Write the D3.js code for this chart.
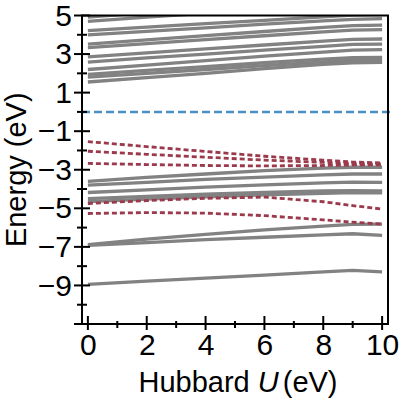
<!DOCTYPE html>
<html>
<head>
<meta charset="utf-8">
<script src="https://cdn.jsdelivr.net/npm/d3@7"></script>
<style>
    body { margin: 0; background: #fff; }
    svg { display: block; font-family: "Liberation Sans", Arial, sans-serif; }
</style>
</head>
<body>
<div id="chart"></div>
<script>
// --- Data ---
const hubbardU = [0, 2, 4, 6, 8, 9, 10];

// conduction states (solid gray), values at each U above
const upperStates = [
    [4.92, 5.15, 5.35, 5.55, 5.75, 5.80, 5.80],
    [4.70, 4.92, 5.12, 5.30, 5.50, 5.55, 5.55],
    [4.22, 4.40, 4.58, 4.75, 4.93, 5.02, 5.05],
    [4.00, 4.18, 4.36, 4.55, 4.72, 4.80, 4.84],
    [3.52, 3.74, 3.96, 4.17, 4.38, 4.47, 4.50],
    [3.33, 3.54, 3.75, 3.95, 4.15, 4.24, 4.27],
    [2.85, 3.06, 3.27, 3.47, 3.67, 3.76, 3.78],
    [2.58, 2.80, 3.00, 3.20, 3.40, 3.50, 3.52],
    [2.20, 2.43, 2.66, 2.89, 3.10, 3.20, 3.23],
    [1.95, 2.15, 2.35, 2.55, 2.74, 2.82, 2.83],
    [1.80, 2.00, 2.20, 2.40, 2.60, 2.68, 2.70],
    [1.55, 1.78, 2.00, 2.24, 2.46, 2.55, 2.57]
];

// valence states (solid gray)
const lowerStates = [
    [-3.60, -3.40, -3.22, -3.05, -2.92, -2.87, -2.87],
    [-3.80, -3.65, -3.50, -3.38, -3.27, -3.22, -3.22],
    [-4.18, -4.04, -3.90, -3.78, -3.68, -3.64, -3.65],
    [-4.50, -4.38, -4.27, -4.17, -4.10, -4.08, -4.10],
    [-4.65, -4.52, -4.40, -4.30, -4.22, -4.19, -4.20],
    [-6.88, -6.60, -6.35, -6.12, -5.92, -5.83, -5.82],
    [-6.92, -6.78, -6.62, -6.50, -6.38, -6.32, -6.40],
    [-8.95, -8.78, -8.62, -8.47, -8.30, -8.22, -8.30]
];

// localized states (red dashed)
const dashedStates = [
    [-1.54, -1.80, -2.05, -2.30, -2.50, -2.60, -2.65],
    [-2.04, -2.20, -2.35, -2.50, -2.62, -2.68, -2.70],
    [-2.67, -2.73, -2.78, -2.80, -2.78, -2.75, -2.75],
    [-4.75, -4.60, -4.48, -4.42, -4.66, -4.86, -5.04],
    [-5.27, -5.22, -5.25, -5.38, -5.60, -5.72, -5.82]
];

const fermiLevel = 0;

const xMajorTicks = [0, 2, 4, 6, 8, 10];
const xMinorTicks = [1, 3, 5, 7, 9];
const yMajorTicks = [5, 3, 1, -1, -3, -5, -7, -9, -11];
const yMinorTicks = [4, 2, 0, -2, -4, -6, -8, -10];

// --- Layout ---
const width = 400, height = 403;
const margin = { top: 15.5, right: 12, bottom: 79, left: 82 };
const colors = { gray: "#828282", red: "#9a3a4c", blue: "#4a90c4" };

const svg = d3.select("#chart").append("svg")
    .attr("width", width)
    .attr("height", height);

const x = d3.scaleLinear()
    .domain([-0.2, 10.2])
    .range([margin.left, width - margin.right]);

const y = d3.scaleLinear()
    .domain([-11, 5])
    .range([height - margin.bottom, margin.top]);

svg.append("defs").append("clipPath")
    .attr("id", "plot-clip")
    .append("rect")
    .attr("x", x.range()[0])
    .attr("y", y.range()[1])
    .attr("width", x.range()[1] - x.range()[0])
    .attr("height", y.range()[0] - y.range()[1]);

const line = d3.line()
    .x((d, i) => x(hubbardU[i]))
    .y(d => y(d));

const plot = svg.append("g").attr("clip-path", "url(#plot-clip)");

// solid gray bands
plot.append("g")
    .selectAll("path")
    .data(upperStates.concat(lowerStates))
    .join("path")
    .attr("d", line)
    .attr("fill", "none")
    .attr("stroke", colors.gray)
    .attr("stroke-width", 3.3);

// red dashed states on top
plot.append("g")
    .selectAll("path")
    .data(dashedStates)
    .join("path")
    .attr("d", line)
    .attr("fill", "none")
    .attr("stroke", colors.red)
    .attr("stroke-width", 2.8)
    .attr("stroke-dasharray", "5,3");

// Fermi level
svg.append("line")
    .attr("x1", x.range()[0])
    .attr("x2", x.range()[1] + 2)
    .attr("y1", y(fermiLevel))
    .attr("y2", y(fermiLevel))
    .attr("stroke", colors.blue)
    .attr("stroke-width", 2.5)
    .attr("stroke-dasharray", "8,4");

// --- Axes ---
const bottomY = y.range()[0];
const leftX = x.range()[0];

const xAxis = svg.append("g")
    .attr("transform", `translate(0,${bottomY})`)
    .call(d3.axisBottom(x).tickValues(xMajorTicks).tickSizeInner(0).tickSizeOuter(0).tickPadding(10));
xAxis.select(".domain").remove();
xAxis.selectAll(".tick text")
    .attr("font-size", 30)
    .attr("fill", "#000");

const yAxis = svg.append("g")
    .attr("transform", `translate(${leftX},0)`)
    .call(d3.axisLeft(y).tickValues(yMajorTicks).tickSizeInner(0).tickSizeOuter(0).tickPadding(10)
        .tickFormat(d => d === -11 ? "" : d3.format("")(d).replace("-", "\u2212")));
yAxis.select(".domain").remove();
yAxis.selectAll(".tick text")
    .attr("font-size", 30)
    .attr("fill", "#000");

// ticks cross the spines
const tickG = svg.append("g").attr("stroke", "#000").attr("stroke-width", 2);

tickG.selectAll(".xmaj").data(xMajorTicks).join("line")
    .attr("x1", d => x(d)).attr("x2", d => x(d))
    .attr("y1", bottomY - 8).attr("y2", bottomY + 6);
tickG.selectAll(".xmin").data(xMinorTicks).join("line")
    .attr("class", "xmin")
    .attr("x1", d => x(d)).attr("x2", d => x(d))
    .attr("y1", bottomY - 3).attr("y2", bottomY + 4);
tickG.selectAll(".ymaj").data(yMajorTicks).join("line")
    .attr("class", "ymaj")
    .attr("y1", d => y(d)).attr("y2", d => y(d))
    .attr("x1", leftX - 8).attr("x2", leftX + 8);
tickG.selectAll(".ymin").data(yMinorTicks).join("line")
    .attr("class", "ymin")
    .attr("y1", d => y(d)).attr("y2", d => y(d))
    .attr("x1", leftX - 5).attr("x2", leftX + 5);

// frame
svg.append("rect")
    .attr("x", leftX)
    .attr("y", y.range()[1])
    .attr("width", x.range()[1] - leftX)
    .attr("height", bottomY - y.range()[1])
    .attr("fill", "none")
    .attr("stroke", "#000")
    .attr("stroke-width", 2);

// --- Titles ---
const xTitle = svg.append("text")
    .attr("x", (leftX + x.range()[1]) / 2 + 3)
    .attr("y", 392)
    .attr("text-anchor", "middle")
    .attr("font-size", 29);
xTitle.append("tspan").text("Hubbard ");
xTitle.append("tspan").attr("font-style", "italic").text("U");
xTitle.append("tspan").attr("dx", 4).text("(eV)");

svg.append("text")
    .attr("transform", `translate(26,${(y.range()[0] + y.range()[1]) / 2}) rotate(-90)`)
    .attr("text-anchor", "middle")
    .attr("font-size", 29)
    .text("Energy (eV)");
</script>
</body>
</html>
